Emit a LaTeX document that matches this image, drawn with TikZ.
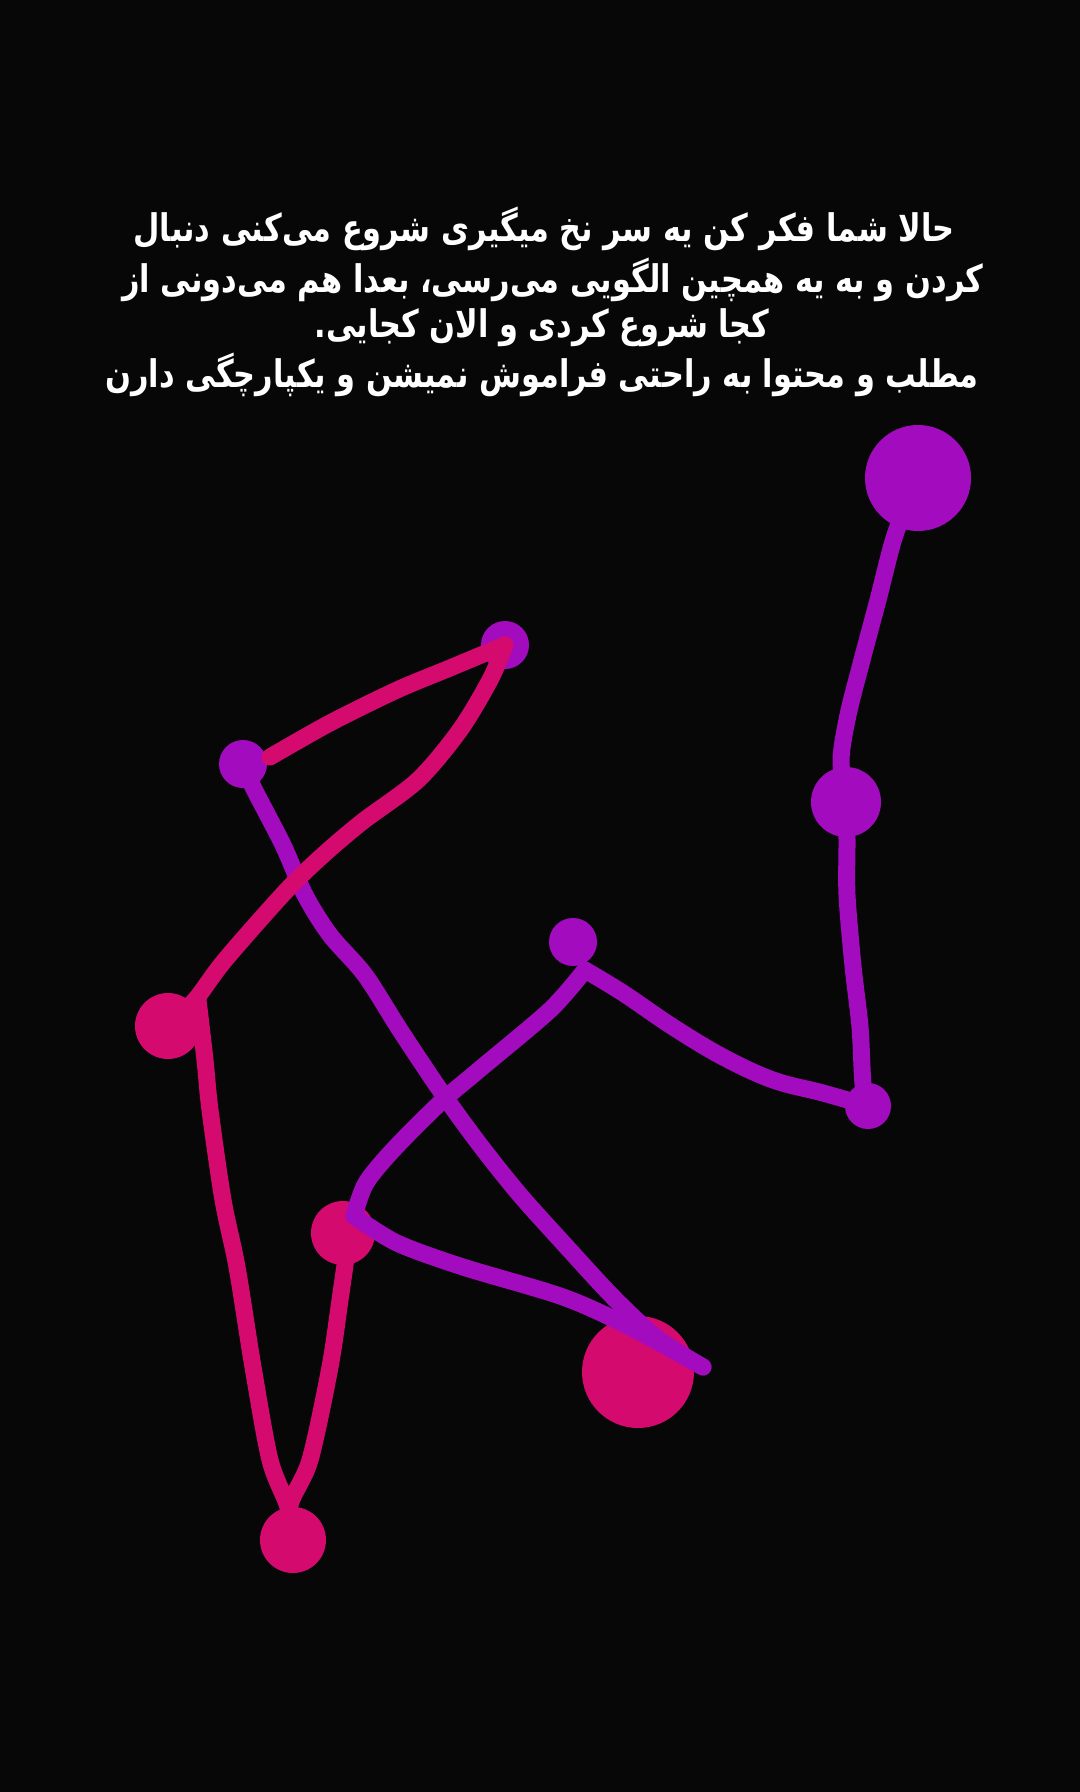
\documentclass[tikz,border=0pt]{standalone}
\usepackage{fontspec}
\newfontfamily\fa[Script=Arabic,FakeStretch=0.8]{DejaVu Sans}
\TeXXeTstate=1
\definecolor{bgc}{RGB}{8,7,8}
\definecolor{vio}{RGB}{162,12,190}
\definecolor{mag}{RGB}{213,10,110}
\begin{document}
\begin{tikzpicture}[x=0.5pt,y=-0.5pt,
  dot/.style={circle,inner sep=0pt,outer sep=0pt,draw=none},
  vdot/.style={dot,fill=vio},
  mdot/.style={dot,fill=mag},
  stroke/.style={line width=8.5pt,line cap=round,line join=round},
  vline/.style={stroke,draw=vio},
  mline/.style={stroke,draw=mag},
  txt/.style={text=white,font=\fa\bfseries\fontsize{19}{24}\selectfont,inner sep=0pt}]
\fill[bgc] (0,0) rectangle (1080,1792);
\useasboundingbox (0,0) rectangle (1080,1792);
% text
\node[txt] (t1) at (544,229) {\beginR حالا شما فکر کن یه سر نخ میگیری شروع می^^^^200cکنی دنبال\endR};
\node[txt] (t2) at (553,280) {\beginR کردن و به یه همچین الگویی می^^^^200cرسی، بعدا هم می^^^^200cدونی از\endR};
\node[txt] (t3) at (542,328) {\beginR کجا شروع کردی و الان کجایی.\endR};
\node[txt] (t4) at (542,375) {\beginR مطلب و محتوا به راحتی فراموش نمیشن و یکپارچگی دارن\endR};
% pink circles
\node[mdot,minimum size=33pt] (kA) at (168,1026) {};
\node[mdot,minimum size=32pt] (kB) at (343,1233) {};
\node[mdot,minimum size=56pt] (kC) at (638,1372) {};
\node[mdot,minimum size=33pt] (kD) at (293,1540) {};
% purple circles
\node[vdot,minimum size=53pt] (pA) at (918,478) {};
\node[vdot,minimum size=35pt] (pB) at (846,802) {};
\node[vdot,minimum size=23pt] (pC) at (868,1106) {};
\node[vdot,minimum size=24pt] (pD) at (573,942) {};
\node[vdot,minimum size=24pt] (pE) at (505,645) {};
\node[vdot,minimum size=24pt] (pF) at (243,764) {};
\coordinate (peak) at (585,970);
\coordinate (corner) at (354,1216);
\coordinate (vend) at (703,1367);
\coordinate (mstart) at (270,757);
% purple strokes
\draw[vline] plot[smooth,tension=0.5] coordinates {(pA.center) (895,535) (878,600) (862,660) (848,715) (841,760) (pB.center)};
\draw[vline] plot[smooth,tension=0.5] coordinates {(pB.center) (847,840) (847,895) (853,966) (860,1027) (863,1084) (pC.center)};
\draw[vline] plot[smooth,tension=0.6] coordinates {(pC.center) (823,1093) (773,1080) (723,1057) (673,1027) (623,993) (peak)};
\draw[vline] plot[smooth,tension=0.5] coordinates {(peak) (550,1010) (480,1069) (440,1103) (394,1149) (366,1183) (corner)};
\draw[vline] plot[smooth,tension=0.5] coordinates {(corner) (397,1243) (463,1267) (563,1297) (630,1327) (vend)};
\draw[vline] plot[smooth,tension=0.5] coordinates {(pF.center) (253,787) (283,845) (305,895) (330,935) (365,975) (400,1030) (440,1090) (480,1145) (520,1195) (565,1245) (613,1297) (657,1338) (vend)};
% pink strokes
\draw[mline] plot[smooth,tension=0.5] coordinates {(mstart) (330,723) (397,690) (450,668) (pE.center)};
\draw[mline] plot[smooth,tension=0.5] coordinates {(pE.center) (490,680) (460,730) (418,780) (362,822) (322,856) (285,892) (225,960) (195,1000) (kA.center)};
\draw[mline] plot[smooth,tension=0.5] coordinates {(198,1000) (205,1060) (210,1110) (223,1200) (237,1267) (253,1367) (270,1460) (288,1507) (kD.center)};
\draw[mline] plot[smooth,tension=0.5] coordinates {(kD.center) (290,1505) (310,1460) (330,1367) (340,1300) (346,1258)};
\end{tikzpicture}
\end{document}
